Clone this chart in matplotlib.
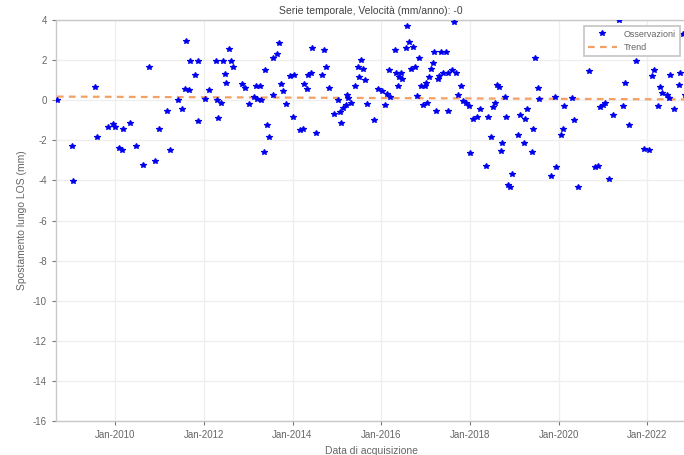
import datetime as dt
import matplotlib
matplotlib.use("Agg")
import matplotlib.pyplot as plt
import matplotlib.dates as mdates

# ---------------- data ----------------
obs_years = [
    2008.69, 2009.02, 2009.06, 2009.55, 2009.59, 2009.85, 2009.96, 2010.01, 2010.10, 2010.15,
    2010.19, 2010.34, 2010.48, 2010.64, 2010.77, 2010.90, 2011.00, 2011.17, 2011.24, 2011.43,
    2011.51, 2011.58, 2011.60, 2011.66, 2011.70, 2011.81, 2011.87, 2011.88, 2012.04, 2012.13,
    2012.27, 2012.29, 2012.33, 2012.39, 2012.44, 2012.48, 2012.51, 2012.57, 2012.62, 2012.65,
    2012.87, 2012.92, 2013.02, 2013.13, 2013.17, 2013.21, 2013.27, 2013.30, 2013.35, 2013.37,
    2013.42, 2013.48, 2013.55, 2013.57, 2013.66, 2013.70, 2013.73, 2013.79, 2013.85, 2013.94,
    2014.00, 2014.04, 2014.17, 2014.24, 2014.26, 2014.32, 2014.35, 2014.42, 2014.43, 2014.53,
    2014.66, 2014.70, 2014.76, 2014.83, 2014.93, 2015.02, 2015.08, 2015.10, 2015.13, 2015.20,
    2015.23, 2015.26, 2015.32, 2015.41, 2015.47, 2015.50, 2015.54, 2015.58, 2015.64, 2015.69,
    2015.84, 2015.92, 2016.02, 2016.09, 2016.13, 2016.17, 2016.20, 2016.30, 2016.33, 2016.37,
    2016.41, 2016.45, 2016.47, 2016.56, 2016.58, 2016.62, 2016.67, 2016.71, 2016.77, 2016.81,
    2016.86, 2016.89, 2016.94, 2016.98, 2017.01, 2017.04, 2017.07, 2017.13, 2017.17, 2017.19,
    2017.24, 2017.28, 2017.31, 2017.35, 2017.39, 2017.47, 2017.50, 2017.51, 2017.60, 2017.64,
    2017.69, 2017.73, 2017.79, 2017.84, 2017.91, 2017.98, 2018.01, 2018.07, 2018.16, 2018.22,
    2018.35, 2018.41, 2018.48, 2018.52, 2018.56, 2018.60, 2018.65, 2018.70, 2018.73, 2018.78,
    2018.82, 2018.86, 2018.91, 2018.94, 2019.09, 2019.12, 2019.22, 2019.25, 2019.29, 2019.39,
    2019.43, 2019.47, 2019.53, 2019.56, 2019.83, 2019.92, 2019.95, 2020.05, 2020.09, 2020.13,
    2020.31, 2020.35, 2020.43, 2020.69, 2020.82, 2020.88, 2020.93, 2020.99, 2021.00, 2021.04,
    2021.14, 2021.22, 2021.35, 2021.45, 2021.50, 2021.58, 2021.75, 2021.93, 2022.03, 2022.10,
    2022.14, 2022.23, 2022.29, 2022.33, 2022.43, 2022.48, 2022.50, 2022.60, 2022.71, 2022.74,
    2022.81, 2022.84,
]
obs_values = [
    0.00, -2.30, -4.05, 0.68, -1.83, -1.33, -1.20, -1.35, -2.38, -2.50,
    -1.42, -1.12, -2.30, -3.25, 1.67, -3.05, -1.43, -0.52, -2.50, 0.00,
    -0.42, 0.55, 2.97, 0.50, 1.97, 1.27, 1.97, -1.03, 0.07, 0.50,
    1.97, 0.00, -0.90, -0.15, 1.97, 1.30, 0.87, 2.55, 1.97, 1.67,
    0.83, 0.63, -0.17, 0.18, 0.70, 0.05, 0.70, 0.00, -2.58, 1.50,
    -1.22, -1.83, 2.10, 0.28, 2.30, 2.83, 0.83, 0.45, -0.20, 1.22,
    -0.83, 1.28, -1.50, -1.42, 0.83, 0.55, 1.28, 1.38, 2.60, -1.62,
    1.28, 2.48, 1.67, 0.60, -0.67, 0.00, -0.58, -1.12, -0.40, -0.25,
    0.28, 0.10, -0.12, 0.70, 1.67, 1.17, 2.00, 1.58, 1.00, -0.17,
    -1.00, 0.58, 0.45, -0.22, 0.33, 1.52, 0.17, 2.50, 1.38, 0.70,
    1.17, 1.38, 1.05, 2.58, 3.68, 2.90, 1.58, 2.67, 1.67, 0.22,
    2.12, 0.70, -0.22, 0.70, 0.87, -0.12, 1.17, 1.58, 1.87, 2.38,
    -0.55, 1.08, 1.22, 2.38, 1.38, 2.38, 1.38, -0.55, 1.50, 3.92,
    1.38, 0.28, 0.70, -0.03, -0.12, -0.30, -2.65, -0.92, -0.85, -0.42,
    -3.28, -0.83, -1.83, -0.35, -0.12, 0.78, 0.67, -2.55, -2.13, 0.17,
    -0.83, -4.22, -4.33, -3.67, -1.72, -0.72, -2.13, -0.95, -0.43, -2.60,
    -1.42, 2.10, 0.62, 0.08, -3.80, 0.18, -3.33, -1.72, -1.45, -0.29,
    0.12, -1.00, -4.33, 1.48, -3.33, -3.28, -0.33, 3.12, -0.25, -0.15,
    -3.95, -0.72, 3.98, -0.30, 0.87, -1.23, 1.97, -2.42, -2.50, 1.20,
    1.50, -0.30, 0.67, 0.38, 0.25, 0.12, 1.28, -0.42, 0.78, 1.38,
    3.28, 0.25,
]
trend_years = [2008.69, 2022.87]
trend_values = [0.18, 0.04]
xlim_years = [2008.67, 2022.87]
tick_years = [2010, 2012, 2014, 2016, 2018, 2020, 2022]
ytick_values = list(range(-16, 5, 2))

title_text = "Serie temporale, Velocità (mm/anno): -0"
xlabel_text = "Data di acquisizione"
ylabel_text = "Spostamento lungo LOS (mm)"
legend_labels = ["Osservazioni", "Trend"]


def to_date(y):
    year = int(y)
    start = dt.datetime(year, 1, 1)
    end = dt.datetime(year + 1, 1, 1)
    return start + (end - start) * (y - year)


plt.rcParams['font.family'] = ['Liberation Sans', 'DejaVu Sans']
plt.rcParams['axes.unicode_minus'] = False

fig = plt.figure(figsize=(6.84, 4.55), dpi=100)
ax = fig.add_axes([56 / 684, 34 / 455, (684 - 56) / 684 + 0.003, 401 / 455])

obs_dates = [to_date(y) for y in obs_years]
trend_dates = [to_date(y) for y in trend_years]

ax.plot(trend_dates, trend_values, linestyle=(0, (3, 2.4)), color='#F4A064',
        linewidth=1.6, label=legend_labels[1], zorder=2)
ax.plot(obs_dates, obs_values, linestyle='none', marker='*', markersize=3.8,
        color='#0000EE', markeredgewidth=0.9, label=legend_labels[0], zorder=3)

ax.set_xlim(to_date(xlim_years[0]), to_date(xlim_years[1]))
ax.set_ylim(-16, 4)
ax.set_yticks(ytick_values)
ax.set_xticks([dt.datetime(y, 1, 1) for y in tick_years])
ax.xaxis.set_major_formatter(mdates.DateFormatter('%b-%Y'))

ax.grid(True, color='#EEEEEE', linewidth=0.9)
ax.set_axisbelow(True)
for sp in ax.spines.values():
    sp.set_color('#C8C8C8')
    sp.set_linewidth(1.0)
ax.tick_params(axis='both', labelsize=7, colors='#777777', length=3, width=0.8,
               labelcolor='#666666')

ax.set_title(title_text, fontsize=7.5, color='#444444', pad=4)
ax.set_xlabel(xlabel_text, fontsize=7.5, color='#666666', labelpad=4)
ax.set_ylabel(ylabel_text, fontsize=7.5, color='#666666', labelpad=4)

h, l = ax.get_legend_handles_labels()
leg = ax.legend([h[1], h[0]], [l[1], l[0]], loc='upper right',
                bbox_to_anchor=(0.99, 0.985), borderaxespad=0, fontsize=6.5,
                frameon=True, fancybox=False, framealpha=1, edgecolor='#C8C8C8',
                handlelength=3.2, labelcolor='#666666')
leg.get_frame().set_linewidth(1.3)

fig.savefig('out.png', dpi=100)
